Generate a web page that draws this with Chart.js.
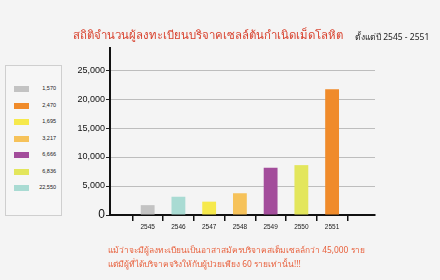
<!DOCTYPE html>
<html>
<head>
<meta charset="utf-8">
<script src="https://cdn.jsdelivr.net/npm/chart.js@4"></script>
<style>
  html, body { margin: 0; padding: 0; background: #f4f4f4; }
  #wrap { position: relative; width: 440px; height: 280px; overflow: hidden; font-family: "Noto Sans", sans-serif; }
  #chart { position: absolute; left: 0; top: 0; }
  #title { position: absolute; left: 73px; top: 26px; color: #d8402c; font-size: 11.4px; white-space: nowrap; }
  #sub { position: absolute; left: 355px; top: 30px; color: #222; font-size: 8.5px; white-space: nowrap; }
  #legend { position: absolute; left: 5px; top: 65px; width: 55px; height: 149px; border: 1px solid #cfcfcf; background: #f6f6f6; }
  .item { position: absolute; left: 8px; width: 42px; height: 7px; }
  .item .sw { position: absolute; left: 0; top: 0; width: 15px; height: 6px; }
  .item .val { position: absolute; right: 0; top: -1px; font-size: 5.5px; color: #222; font-family: "Liberation Sans", sans-serif; }
  #note { position: absolute; left: 108px; top: 243px; color: #e8603c; font-size: 8.4px; line-height: 14px; white-space: nowrap; }
</style>
</head>
<body>
<div id="wrap">
  <canvas id="chart" width="440" height="280"></canvas>
  <div id="title">สถิติจำนวนผู้ลงทะเบียนบริจาคเซลล์ต้นกำเนิดเม็ดโลหิต</div>
  <div id="sub">ตั้งแต่ปี 2545 - 2551</div>
  <div id="legend"></div>
  <div id="note">แม้ว่าจะมีผู้ลงทะเบียนเป็นอาสาสมัครบริจาคสเต็มเซลล์กว่า 45,000 ราย<br>แต่มีผู้ที่ได้บริจาคจริงให้กับผู้ป่วยเพียง 60 รายเท่านั้น!!!</div>
</div>
<script>
// Bars (as drawn)
const years = [2545, 2546, 2547, 2548, 2549, 2550, 2551];
const donors = [1700, 3150, 2300, 3750, 8150, 8600, 21700];
const barColors = ['#c3c3c3', '#a9dbd3', '#f6e94c', '#f6c25a', '#a34d9b', '#e3e65c', '#f08b2a'];
const yTicks = [0, 5000, 10000, 15000, 20000, 25000];

// Legend box (as printed, its own order)
const legendValues = ['1,570', '2,470', '1,695', '3,217', '6,666', '6,836', '22,550'];
const legendColors = ['#c3c3c3', '#f08b2a', '#f6e94c', '#f6c25a', '#a34d9b', '#e3e65c', '#a9dbd3'];

// Build legend
const legend = document.getElementById('legend');
legendValues.forEach((v, i) => {
    const item = document.createElement('div');
    item.className = 'item';
    item.style.top = (20 + i * 16.5) + 'px';
    item.innerHTML = '<div class="sw" style="background:' + legendColors[i] + '"></div><div class="val">' + v + '</div>';
    legend.appendChild(item);
});

new Chart(document.getElementById('chart'), {
    type: 'bar',
    data: {
        datasets: [{
            data: years.map((y, i) => ({ x: y, y: donors[i] })),
            backgroundColor: barColors,
            barPercentage: 0.45,
            categoryPercentage: 1
        }]
    },
    options: {
        responsive: false,
        animation: false,
        layout: { padding: { left: 0, right: 65, top: 48, bottom: 0 } },
        plugins: { legend: { display: false }, tooltip: { enabled: false } },
        scales: {
            x: {
                type: 'linear',
                min: 2544.39,
                max: 2551.78,
                afterBuildTicks: s => { s.ticks = years.map(y => ({ value: y })); },
                afterFit: s => { s.height = 65; },
                grid: { display: true, drawOnChartArea: false, tickLength: 6, tickColor: '#111', lineWidth: 1.5 },
                border: { color: '#111', width: 2 },
                ticks: { color: '#222', font: { size: 6.5, family: 'Liberation Sans' }, padding: 2, maxRotation: 0, autoSkip: false, callback: v => String(v) }
            },
            y: {
                min: 0,
                max: 28800,
                afterBuildTicks: s => { s.ticks = yTicks.map(v => ({ value: v })); },
                afterFit: s => { s.width = 110; },
                grid: { color: '#bdbdbd', lineWidth: 1, tickLength: 4, tickColor: '#222' },
                border: { color: '#111', width: 2 },
                ticks: {
                    autoSkip: false,
                    padding: 1,
                    color: '#111',
                    font: ctx => (ctx.tick && ctx.tick.value === 0) ? { size: 12, family: 'Liberation Sans' } : { size: 9, family: 'Liberation Sans' },
                    callback: v => v.toLocaleString('en-US')
                }
            }
        }
    }
});
</script>
</body>
</html>
